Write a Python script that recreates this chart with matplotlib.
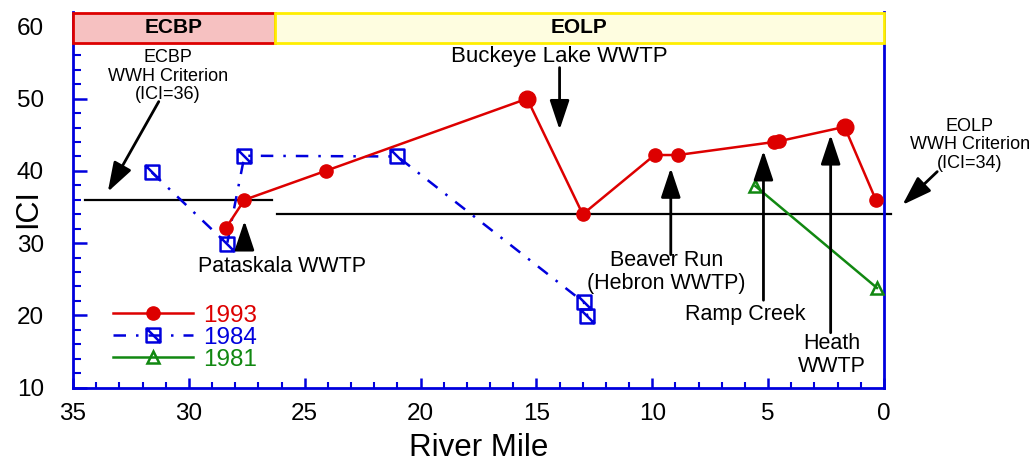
import numpy as np
import matplotlib.pyplot as plt
from matplotlib.path import Path
from matplotlib.patches import Rectangle

plt.rcParams['font.family'] = ['Liberation Sans', 'DejaVu Sans']

# ecoregion bands across the top
regions = ['ECBP', 'EOLP']
region_start = [35.0, 26.3]
region_end = [26.3, 0.0]
region_face = ['#f6c1c1', '#fefde0']
region_edge = ['#dd0000', '#ffee00']

# WWH criterion lines
crit_ici = [36, 34]
crit_from = [34.5, 26.2]
crit_to = [26.4, -0.3]

# ICI by river mile
mile_1993 = [28.4, 27.6, 24.1, 15.4, 13.0, 9.9, 8.9, 4.75, 4.55, 1.7, 0.35]
ici_1993 = [32.1, 36.0, 40.0, 50.0, 34.0, 42.2, 42.2, 44.0, 44.1, 46.1, 36.0]
big_1993 = [False, False, False, True, False, False, False, False, False, True, False]

mile_1984 = [31.6, 28.35, 27.6, 21.0, 12.95, 12.8]
ici_1984 = [39.8, 29.9, 42.1, 42.0, 21.8, 19.9]

mile_1981 = [5.55, 0.3]
ici_1981 = [37.9, 23.8]

red = '#dd0000'
blue = '#0000dd'
green = '#118811'

# square with a diagonal slash
sq = Path([(-1, 1), (1, 1), (1, -1), (-1, -1), (-1, 1), (-1, 1), (1, -1)],
          [Path.MOVETO, Path.LINETO, Path.LINETO, Path.LINETO, Path.CLOSEPOLY,
           Path.MOVETO, Path.LINETO])

fig = plt.figure(figsize=(10.33, 4.62), dpi=100)
ax = fig.add_axes([0.0707, 0.161, 0.785, 0.813])
ax.set_xlim(35, 0)
ax.set_ylim(10, 62)

for name, a, b, fc, ec in zip(regions, region_start, region_end, region_face, region_edge):
    ax.add_patch(Rectangle((b, 57.7), a - b, 4.2, facecolor=fc, edgecolor=ec,
                           lw=2, zorder=5, clip_on=False))
    ax.text((a + b) / 2, 59.9, name, ha='center', va='center', fontsize=15,
            fontweight='bold', zorder=6)

for c, a, b in zip(crit_ici, crit_from, crit_to):
    ax.plot([a, b], [c, c], color='black', lw=1.6, clip_on=False, zorder=2)

l93, = ax.plot(mile_1993, ici_1993, '-o', color=red, lw=1.8, ms=9.5, zorder=4,
               label='1993')
ax.plot(np.array(mile_1993)[big_1993], np.array(ici_1993)[big_1993], 'o',
        color=red, ms=12, zorder=4)
l84, = ax.plot(mile_1984, ici_1984, color=blue, lw=1.8, ls=(0, (5, 4, 1, 4)),
               marker=sq, ms=10, mfc='none', mec=blue, mew=1.8, zorder=3,
               label='1984')
l81, = ax.plot(mile_1981, ici_1981, '-^', color=green, lw=1.8, ms=9, mfc='none',
               mew=1.8, zorder=3, label='1981')

arrow = dict(arrowstyle='-|>,head_length=0.9,head_width=0.3', lw=2,
             color='black', shrinkA=0, shrinkB=0, mutation_scale=20)
notes = [
    ('Buckeye Lake WWTP', (14.0, 45.7), (14.0, 54.3), (14.0, 55.9), 16),
    ('Pataskala WWTP', (27.6, 33.1), (27.6, 29.1), (26.0, 26.7), 15.5),
    ('Beaver Run\n(Hebron WWTP)', (9.2, 40.4), (9.2, 28.4), (9.4, 26.0), 15.5),
    ('Ramp Creek', (5.2, 42.8), (5.2, 22.1), (6.0, 20.1), 15.5),
    ('Heath\nWWTP', (2.3, 45.0), (2.3, 17.6), (2.25, 14.5), 15.5),
    ('ECBP\nWWH Criterion\n(ICI=36)', (33.5, 37.1), (31.3, 49.6), (30.9, 53.1), 13),
    ('EOLP\nWWH Criterion\n(ICI=34)', (-0.8, 35.3), (-2.3, 39.9), (-3.7, 43.6), 13),
]
for txt, head, tail, pos, fs in notes:
    ax.annotate('', xy=head, xytext=tail, arrowprops=arrow, annotation_clip=False)
    ax.text(pos[0], pos[1], txt, ha='center', va='center', fontsize=fs,
            linespacing=1.1, clip_on=False)

for s in ['left', 'bottom', 'right']:
    ax.spines[s].set_color(blue)
    ax.spines[s].set_linewidth(2)
ax.spines['top'].set_visible(False)

ax.set_xticks(np.arange(35, -1, -5))
ax.set_xticks(np.arange(35, -1, -1), minor=True)
ax.set_yticks(np.arange(10, 61, 10))
ax.set_yticks(np.arange(10, 58, 2), minor=True)
ax.tick_params(axis='y', which='major', direction='in', length=10, width=1.8,
               color=blue, labelsize=17.5, pad=21)
ax.tick_params(axis='y', which='minor', direction='in', length=6, width=1.5,
               color=blue)
ax.tick_params(axis='x', which='major', direction='in', length=7, width=1.8,
               color=blue, labelsize=17.5, pad=11)
ax.tick_params(axis='x', which='minor', direction='in', length=4, width=1.5,
               color=blue)

ax.set_xlabel('River Mile', fontsize=22.5, labelpad=6)
fig.text(28 / 1033, 1 - 209 / 462, 'ICI', rotation=90, ha='center', va='center',
         fontsize=22)

ax.legend(handles=[l93, l84, l81], loc='center left', bbox_to_anchor=(0.049, 0.133),
          frameon=False, fontsize=17.5, labelcolor='linecolor', handlelength=3.3,
          handletextpad=0.4, labelspacing=0.0, borderpad=0, borderaxespad=0)

fig.savefig('out.png', dpi=100)
